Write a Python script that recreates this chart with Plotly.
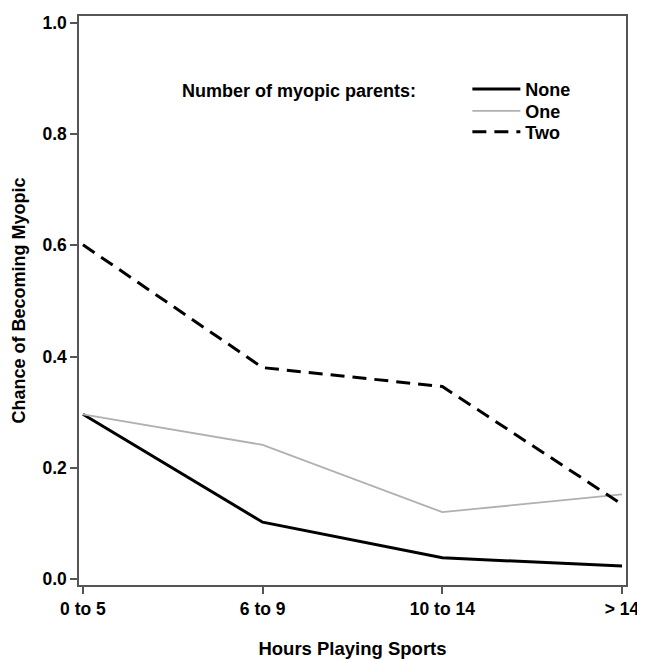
import plotly.graph_objects as go

categories = ["0 to 5", "6 to 9", "10 to 14", "> 14"]
none_vals = [0.296, 0.102, 0.038, 0.023]
one_vals = [0.296, 0.241, 0.120, 0.152]
two_vals = [0.601, 0.380, 0.346, 0.134]
y_ticks = [0.0, 0.2, 0.4, 0.6, 0.8, 1.0]
y_tick_labels = ["0.0", "0.2", "0.4", "0.6", "0.8", "1.0"]

FONT = "Arial, Liberation Sans, sans-serif"
xi = list(range(len(categories)))

fig = go.Figure()
fig.add_trace(go.Scatter(x=xi, y=none_vals, mode="lines", name="None", legend="legend",
                         line=dict(color="black", width=3)))
fig.add_trace(go.Scatter(x=xi, y=one_vals, mode="lines", name="One", legend="legend2",
                         line=dict(color="#b0b0b0", width=1.8)))
fig.add_trace(go.Scatter(x=xi, y=two_vals, mode="lines", name="Two", legend="legend3",
                         line=dict(color="black", width=3, dash="14px,8px")))


def leg(yc):
    return dict(x=0.71, y=1 - (yc - 13) / 574, xanchor="left", yanchor="middle",
                bgcolor="rgba(0,0,0,0)",
                font=dict(family=FONT, size=18, color="black", weight="bold"),
                itemwidth=48)


# page body has an 8px default margin; size/margins compensate for it
fig.update_layout(
    width=637, height=653,
    margin=dict(l=71, r=14, t=5, b=74),
    paper_bgcolor="white", plot_bgcolor="white",
    font=dict(family=FONT, size=18, color="black"),
    showlegend=True,
    legend=leg(87), legend2=leg(109), legend3=leg(130),
    xaxis=dict(
        range=[-0.022, 3.022], tickmode="array", tickvals=xi, ticktext=categories,
        showgrid=False, zeroline=False, showline=True, linecolor="#555", linewidth=1.5,
        mirror=True, ticks="outside", ticklen=7, tickcolor="#555", tickwidth=1.5,
        tickfont=dict(family=FONT, size=17.5, color="black", weight="bold"),
        title=dict(text="<b>Hours Playing Sports</b>", standoff=24,
                   font=dict(family=FONT, size=18.5, color="black")),
    ),
    yaxis=dict(
        range=[-0.011, 1.0125], tickmode="array", tickvals=y_ticks, ticktext=y_tick_labels,
        showgrid=False, zeroline=False, showline=True, linecolor="#555", linewidth=1.5,
        mirror=True, ticks="outside", ticklen=7, tickcolor="#555", tickwidth=1.5,
        tickfont=dict(family=FONT, size=17.5, color="black", weight="bold"),
        title=dict(text="<b>Chance of Becoming Myopic</b>", standoff=12,
                   font=dict(family=FONT, size=18, color="black")),
    ),
    annotations=[dict(
        text="<b>Number of myopic parents:</b>", xref="paper", yref="paper",
        x=(181 - 79) / 552, y=1 - (89 - 13) / 574, xanchor="left", yanchor="middle",
        showarrow=False, font=dict(family=FONT, size=18, color="black"))],
)

fig.write_html("out.html")
